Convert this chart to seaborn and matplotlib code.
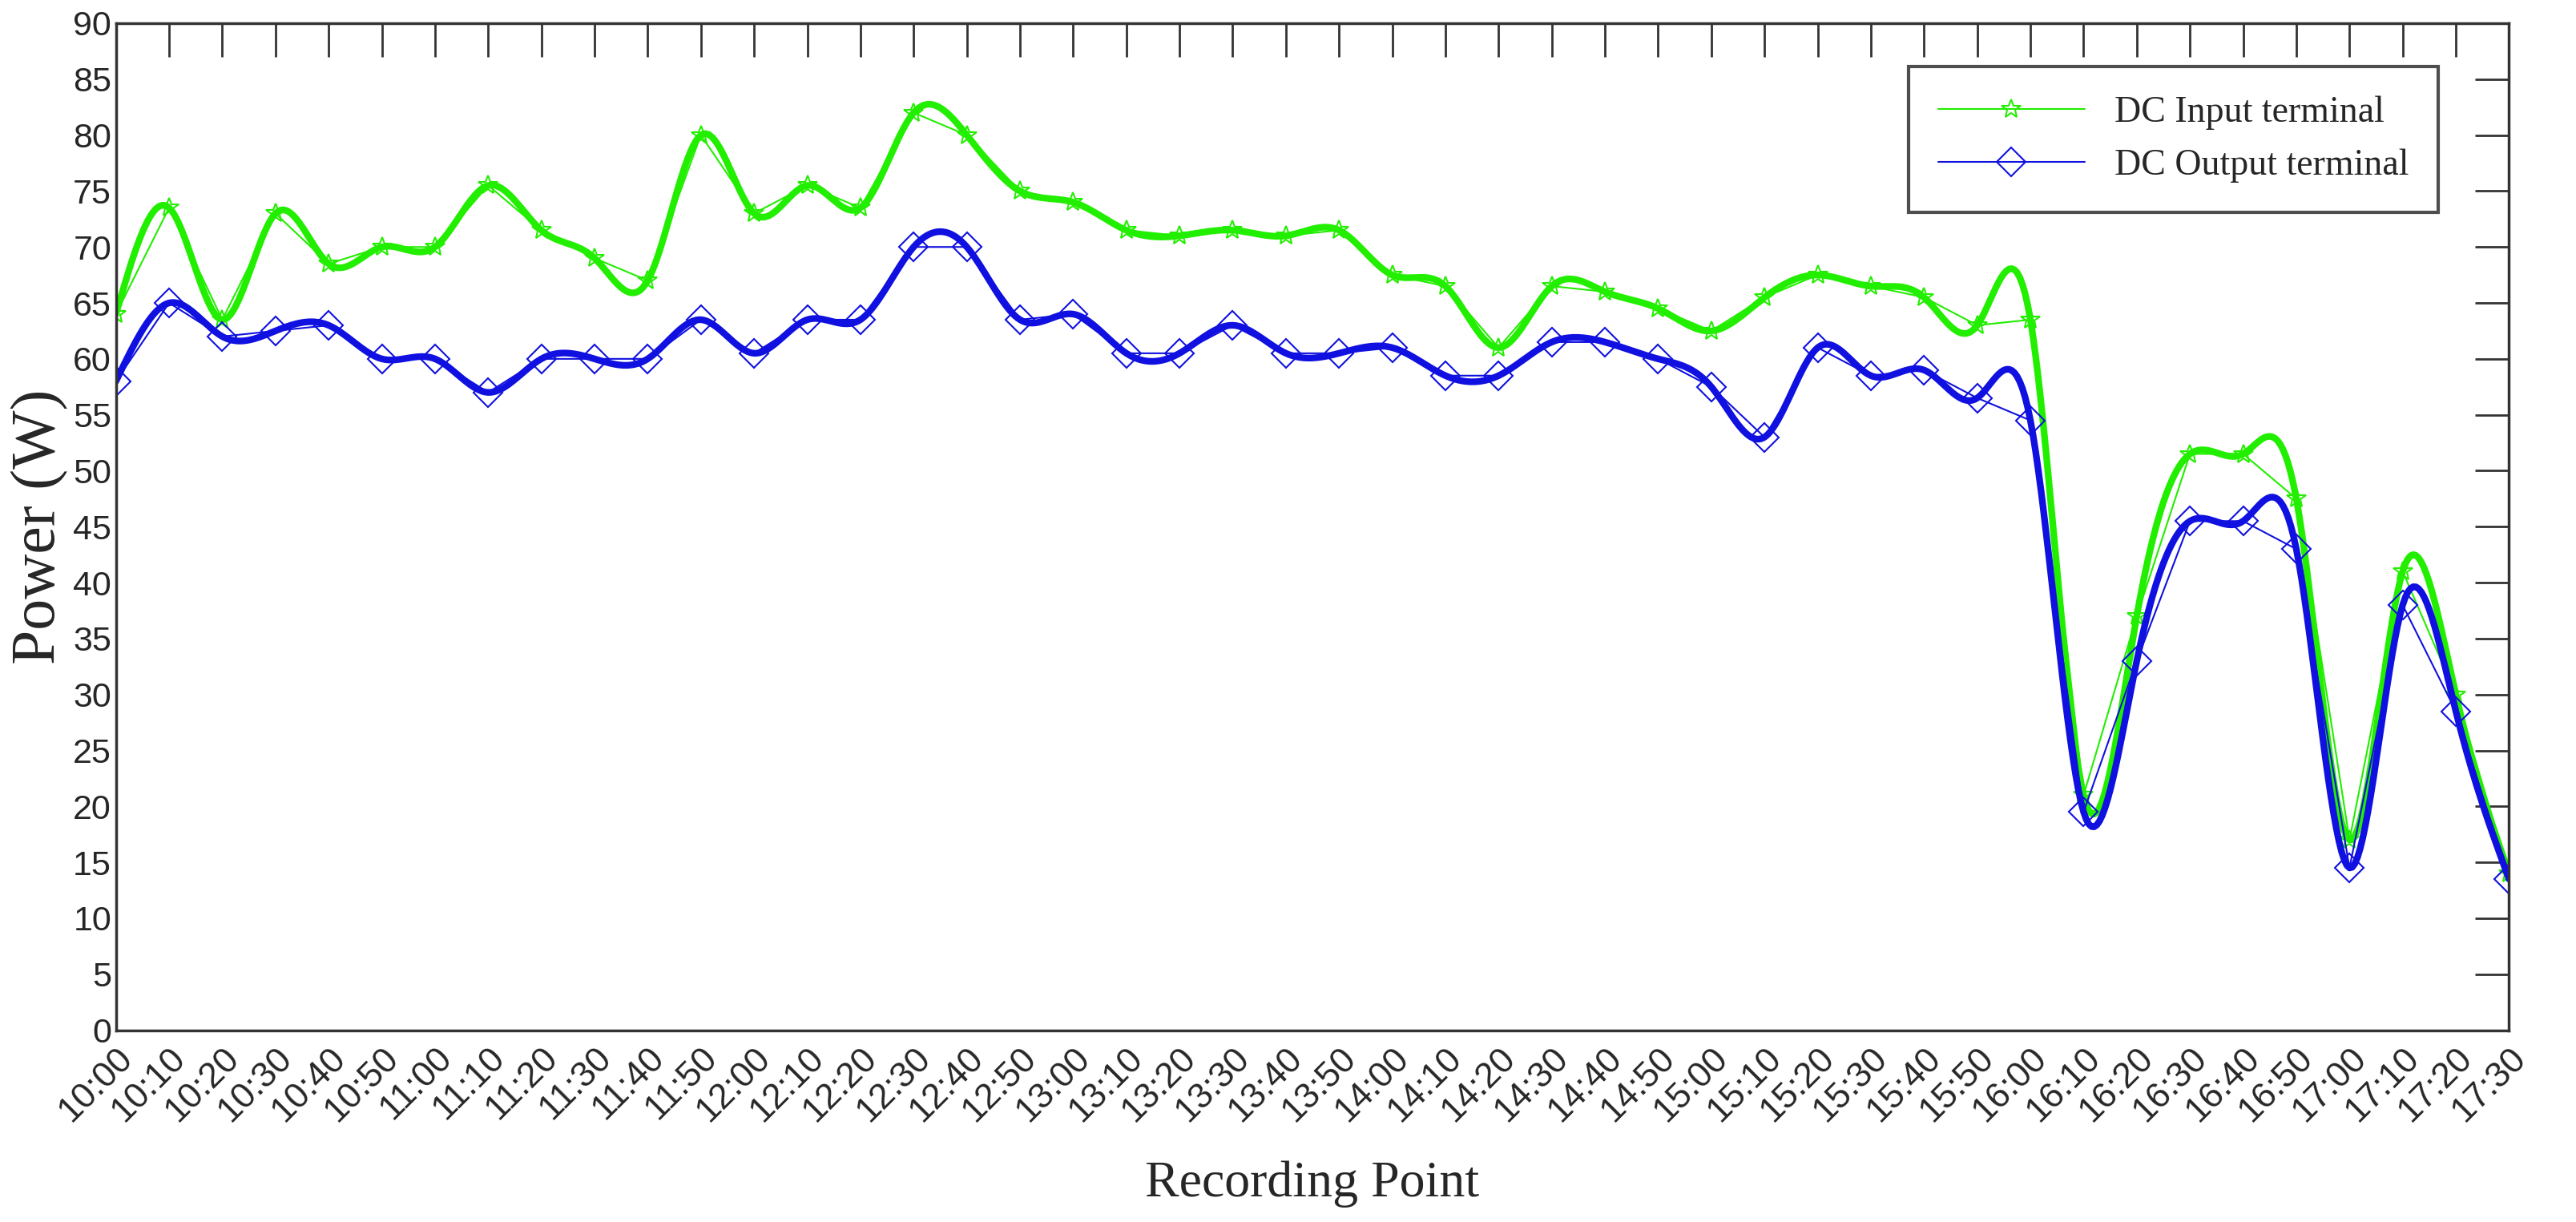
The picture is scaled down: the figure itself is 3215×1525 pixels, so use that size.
import numpy as np
import pandas as pd
import matplotlib
matplotlib.use("Agg")
import matplotlib.pyplot as plt
import seaborn as sns

times = ["10:00", "10:10", "10:20", "10:30", "10:40", "10:50", "11:00", "11:10", "11:20", "11:30",
         "11:40", "11:50", "12:00", "12:10", "12:20", "12:30", "12:40", "12:50", "13:00", "13:10",
         "13:20", "13:30", "13:40", "13:50", "14:00", "14:10", "14:20", "14:30", "14:40", "14:50",
         "15:00", "15:10", "15:20", "15:30", "15:40", "15:50", "16:00", "16:10", "16:20", "16:30",
         "16:40", "16:50", "17:00", "17:10", "17:20", "17:30"]
dc_input = [64, 73.5, 63.5, 73, 68.5, 70, 70, 75.5, 71.5, 69,
            67, 80, 73, 75.5, 73.5, 82, 80, 75, 74, 71.5,
            71, 71.5, 71, 71.5, 67.5, 66.5, 61, 66.5, 66, 64.5,
            62.5, 65.5, 67.5, 66.5, 65.5, 63, 63.5, 21, 37, 51.5,
            51.5, 47.5, 17, 41, 30, 14]
dc_output = [58, 65, 62, 62.5, 63, 60, 60, 57, 60, 60,
             60, 63.5, 60.5, 63.5, 63.5, 70, 70, 63.5, 64, 60.5,
             60.5, 63, 60.5, 60.5, 61, 58.5, 58.5, 61.5, 61.5, 60,
             57.5, 53, 61, 58.5, 59, 56.5, 54.5, 19.5, 33, 45.5,
             45.5, 43, 14.5, 38, 28.5, 13.5]


def natural_spline(x, y, n=20):
    # natural cubic spline, just for the smooth display curve
    x = np.asarray(x, float)
    y = np.asarray(y, float)
    k = len(x)
    h = np.diff(x)
    A = np.zeros((k, k))
    b = np.zeros(k)
    A[0, 0] = A[-1, -1] = 1
    for i in range(1, k - 1):
        A[i, i - 1] = h[i - 1]
        A[i, i] = 2 * (h[i - 1] + h[i])
        A[i, i + 1] = h[i]
        b[i] = 3 * ((y[i + 1] - y[i]) / h[i] - (y[i] - y[i - 1]) / h[i - 1])
    c = np.linalg.solve(A, b)
    xs, ys = [], []
    for i in range(k - 1):
        bb = (y[i + 1] - y[i]) / h[i] - h[i] * (2 * c[i] + c[i + 1]) / 3
        d = (c[i + 1] - c[i]) / (3 * h[i])
        t = np.linspace(0, h[i], n, endpoint=False)
        xs.append(x[i] + t)
        ys.append(y[i] + bb * t + c[i] * t ** 2 + d * t ** 3)
    xs.append([x[-1]])
    ys.append([y[-1]])
    return np.concatenate(xs), np.concatenate(ys)


sns.set_style("white")
plt.rcParams['font.family'] = ['Liberation Sans', 'DejaVu Sans']

idx = np.arange(len(times))
df = pd.DataFrame({"idx": idx, "inp": dc_input, "out": dc_output})

fig = plt.figure(figsize=(32.15, 15.25), dpi=100)
ax = fig.add_axes([0.045, 0.157, 0.929, 0.824])

green = "#22ee00"
blue = "#1010e0"

for col, color, marker, lab in [("inp", green, "*", "DC Input terminal"),
                                ("out", blue, "D", "DC Output terminal")]:
    sx, sy = natural_spline(df["idx"], df[col])
    sns.lineplot(x=sx, y=sy, ax=ax, color=color, linewidth=6, legend=False)
    sns.lineplot(data=df, x="idx", y=col, ax=ax, color=color, linewidth=1.5,
                 marker=marker, markersize=18, markerfacecolor="none",
                 markeredgecolor=color, markeredgewidth=1.5, label=lab)

ax.set_xlim(0, len(times) - 1)
ax.set_ylim(0, 90)
ax.set_yticks(np.arange(0, 91, 5))
ax.set_xticks(idx)
ax.set_xticklabels(times, rotation=45, ha="right", rotation_mode="anchor", fontsize=32)
ax.tick_params(axis="y", labelsize=31, pad=4)
ax.tick_params(axis="x", pad=10)
ax.tick_params(direction="in", length=30, width=2, top=True, right=True, color="#333333")
for s in ax.spines.values():
    s.set_linewidth(2.5)
    s.set_color("#333333")

ax.set_xlabel("Recording Point", fontsize=46, family="Liberation Serif", labelpad=30)
ax.set_ylabel("Power (W)", fontsize=56, family="Liberation Serif", labelpad=4)

leg = ax.legend(loc="upper right", prop={"family": "Liberation Serif", "size": 33},
                frameon=True, fancybox=False, edgecolor="#222222",
                borderpad=0.8, handlelength=4, bbox_to_anchor=(0.978, 0.975))
leg.get_frame().set_linewidth(3)

fig.savefig("out.png", dpi=100)
